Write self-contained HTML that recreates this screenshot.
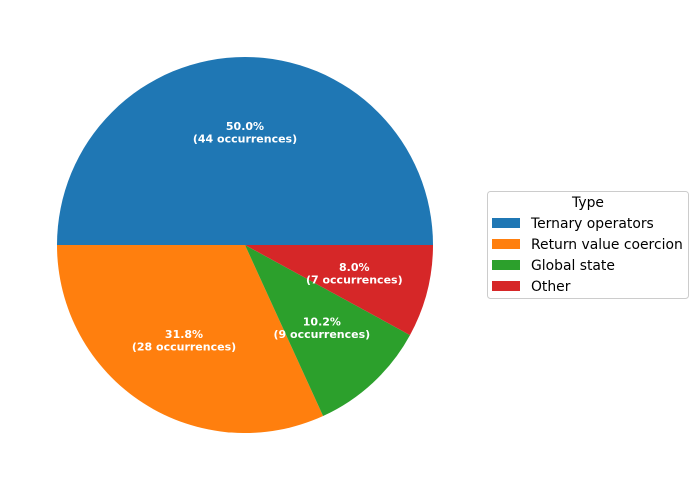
<!DOCTYPE html>
<html><head><meta charset="utf-8"><style>body{margin:0;background:#fff}svg{display:block;font-family:"DejaVu Sans","Liberation Sans",sans-serif}</style></head>
<body>
<svg id="chart" width="698" height="490"></svg>
<script>
const categories=["Ternary operators","Return value coercion","Global state","Other"];
const counts=[44,28,9,7];
const colors=["#1f77b4","#ff7f0e","#2ca02c","#d62728"];
const svg=document.getElementById('chart');
const NS="http://www.w3.org/2000/svg";
const cx=245,cy=245,r=188;
const total=counts.reduce((a,b)=>a+b,0);
function mk(t,a){const e=document.createElementNS(NS,t);for(const k in a)e.setAttribute(k,a[k]);return e;}
let ang=0;
counts.forEach((v,i)=>{
  const sweep=v/total*2*Math.PI;
  const a0=ang,a1=ang+sweep;
  const x0=cx+r*Math.cos(a0),y0=cy-r*Math.sin(a0),x1=cx+r*Math.cos(a1),y1=cy-r*Math.sin(a1);
  const large=sweep>Math.PI?1:0;
  const p=mk('path',{d:`M${cx},${cy}L${x0},${y0}A${r},${r} 0 ${large} 0 ${x1},${y1}Z`,fill:colors[i]});
  
  
  svg.appendChild(p);
  const am=(a0+a1)/2,lx=cx+0.6*r*Math.cos(am),ly=cy-0.6*r*Math.sin(am);
  const t=mk('text',{x:lx,y:ly-2,'text-anchor':'middle','font-size':'11','font-weight':'bold',fill:'#fff'});
  
  
  const s1=mk('tspan',{x:lx});s1.textContent=(v/total*100).toFixed(1)+'%';
  const s2=mk('tspan',{x:lx,dy:'12.5'});s2.textContent='('+v+' occurrences)';
  t.appendChild(s1);t.appendChild(s2);svg.appendChild(t);
  ang=a1;
});
const lg=mk('g',{});


svg.appendChild(lg);
lg.appendChild(mk('rect',{x:487.5,y:191.5,width:201,height:107,rx:3,fill:'#fff',stroke:'#ccc'}));
const tt=mk('text',{x:588,y:207,'text-anchor':'middle','font-size':'13.9',fill:'#000'});tt.textContent='Type';


lg.appendChild(tt);
categories.forEach((c,i)=>{
  const y=223+i*21;
  const rc=mk('rect',{x:492,y:y-5,width:28,height:10,fill:colors[i]});
  
  
  lg.appendChild(rc);
  const t=mk('text',{x:531,y:y+5,'font-size':'13.9',fill:'#000'});t.textContent=c;
  
  
  lg.appendChild(t);
});
</script>
</body></html>
